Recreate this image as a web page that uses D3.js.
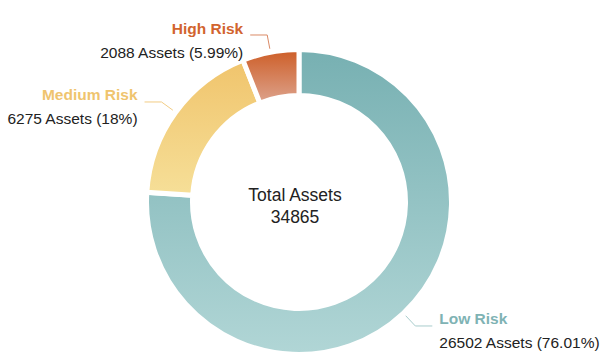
<!DOCTYPE html>
<html>
<head>
<meta charset="utf-8">
<script src="https://cdn.jsdelivr.net/npm/d3@7/dist/d3.min.js"></script>
<style>
  html, body { margin: 0; padding: 0; background: #fff; }
  svg { display: block; }
</style>
</head>
<body>
<svg id="chart" width="608" height="359"></svg>
<script>
const categories = ["Low Risk", "Medium Risk", "High Risk"];
const assetCounts = [26502, 6275, 2088];
const percentLabels = ["76.01%", "18%", "5.99%"];
const totalAssets = 34865;
const titleColors = ["#7fb3b4", "#efc46e", "#d2642e"];
const gradTop = ["#77b0b2", "#f0c46c", "#cd5d26"];
const gradBottom = ["#b1d6d6", "#f6df98", "#dda38d"];
const lineColors = ["#a9cdcd", "#f2cd85", "#db8a66"];

const svg = d3.select("#chart");
const W = 608, H = 359;
const cx = 299, cy = 202;
const outerR = 152.5, innerR = 106.5;

const data = categories.map((c, i) => ({ name: c, value: assetCounts[i], pct: percentLabels[i], i }));

const defs = svg.append("defs");
data.forEach(d => {
  const g = defs.append("linearGradient")
    .attr("id", "grad" + d.i)
    .attr("x1", 0).attr("y1", 0).attr("x2", 0).attr("y2", 1);
  g.append("stop").attr("offset", "0%").attr("stop-color", gradTop[d.i]);
  g.append("stop").attr("offset", "100%").attr("stop-color", gradBottom[d.i]);
});

const pie = d3.pie().sort(null).value(d => d.value);
const arcs = pie(data);
const arc = d3.arc().innerRadius(innerR).outerRadius(outerR);

const g = svg.append("g").attr("transform", `translate(${cx},${cy})`);
g.selectAll("path.slice")
  .data(arcs)
  .join("path")
  .attr("class", "slice")
  .attr("d", arc)
  .attr("fill", d => `url(#grad${d.data.i})`)
  .attr("stroke", "#fff")
  .attr("stroke-width", 5)
  .attr("stroke-linejoin", "miter");

// leader lines + labels
const pt = (a, r) => [r * Math.sin(a), -r * Math.cos(a)];
const r1 = 156, r2 = 170, hlen = 17;
arcs.forEach(d => {
  const mid = (d.startAngle + d.endAngle) / 2;
  const p1 = pt(mid, r1), p2 = pt(mid, r2);
  const right = Math.sin(mid) > 0;
  const p3 = [p2[0] + (right ? hlen : -hlen), p2[1]];
  g.append("polyline")
    .attr("points", [p1, p2, p3].map(p => p.join(",")).join(" "))
    .attr("fill", "none")
    .attr("stroke", lineColors[d.data.i])
    .attr("stroke-width", 1);
  const tx = p3[0] + (right ? 7 : -7);
  const anchor = right ? "start" : "end";
  g.append("text")
    .attr("x", tx).attr("y", p2[1] - 1.5)
    .attr("text-anchor", anchor)
    .attr("font-family", "Liberation Sans, Arial, sans-serif")
    .attr("font-weight", "bold")
    .attr("font-size", 15.5)
    .attr("fill", titleColors[d.data.i])
    .text(d.data.name);
  g.append("text")
    .attr("x", tx).attr("y", p2[1] + 22.5)
    .attr("text-anchor", anchor)
    .attr("font-family", "Liberation Sans, Arial, sans-serif")
    .attr("font-size", 15.5)
    .attr("fill", "#222")
    .text(`${d.data.value} Assets (${d.data.pct})`);
});

// center text
g.append("text")
  .attr("x", -4).attr("y", -1)
  .attr("text-anchor", "middle")
  .attr("font-family", "Liberation Sans, Arial, sans-serif")
  .attr("font-size", 17.5)
  .attr("fill", "#222")
  .text("Total Assets");
g.append("text")
  .attr("x", -4).attr("y", 21)
  .attr("text-anchor", "middle")
  .attr("font-family", "Liberation Sans, Arial, sans-serif")
  .attr("font-size", 17.5)
  .attr("fill", "#222")
  .text(totalAssets);
</script>
</body>
</html>
